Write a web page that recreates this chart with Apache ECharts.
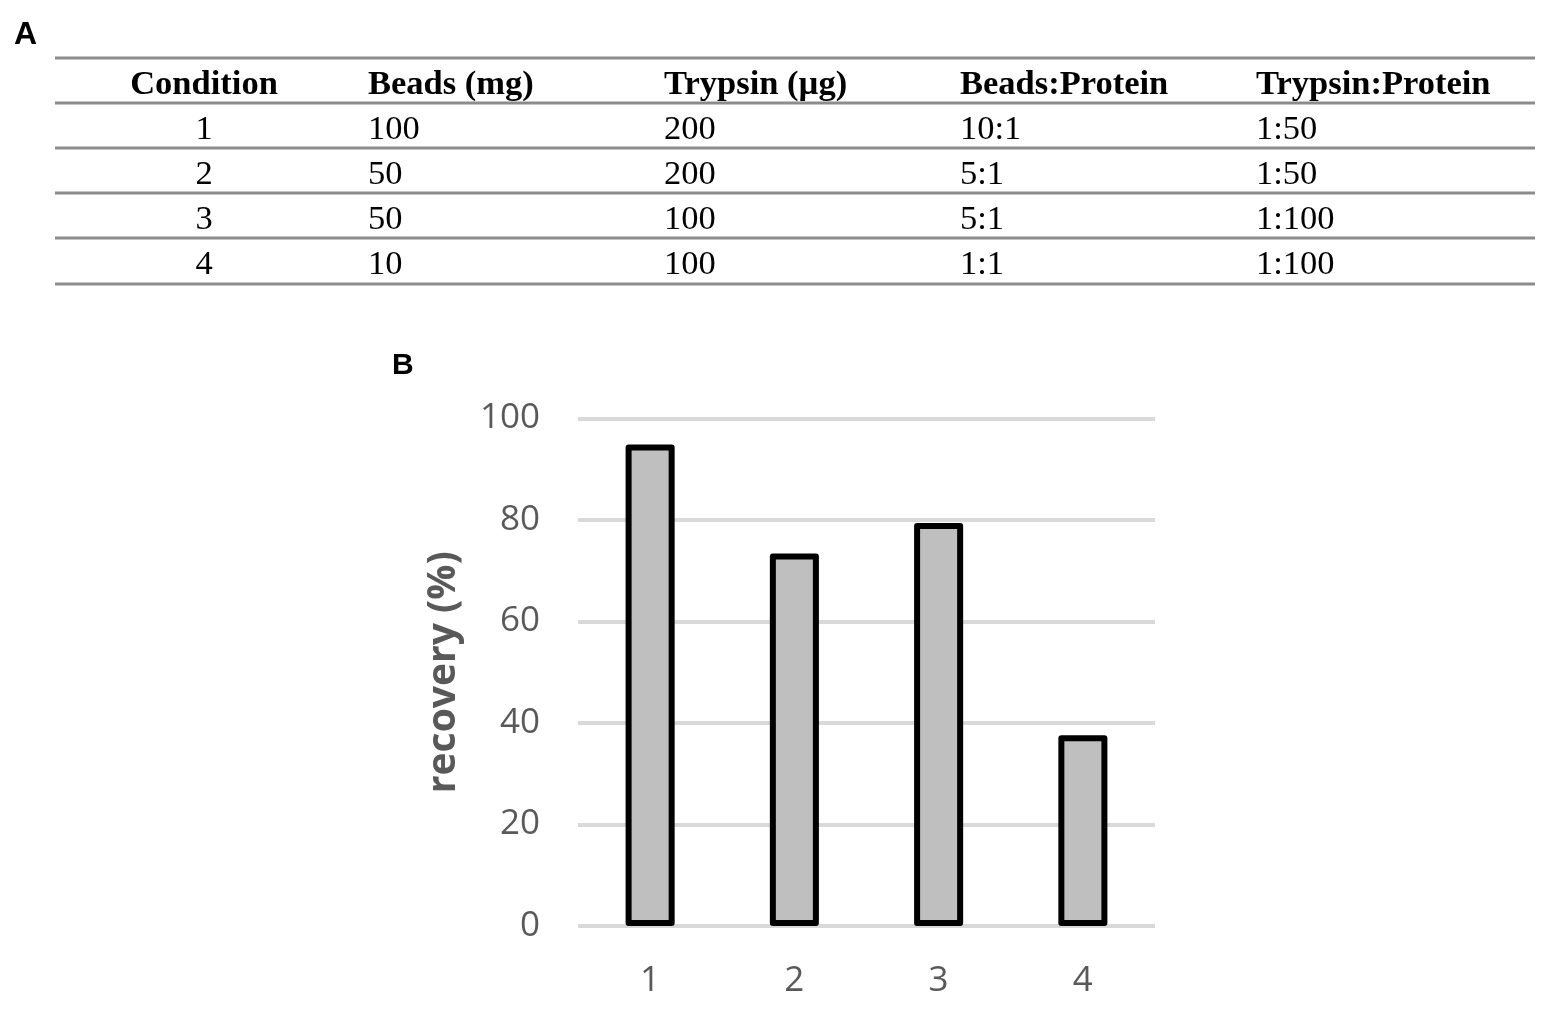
<!DOCTYPE html>
<html>
<head>
<meta charset="utf-8">
<script src="https://cdn.jsdelivr.net/npm/echarts@6/dist/echarts.min.js"></script>
<style>
  html, body { margin: 0; padding: 0; background: #fff; }
  #main { width: 1562px; height: 1029px; }
</style>
</head>
<body>
<div id="main"></div>
<script>
// table (panel A)
var tableHeader = ['Condition', 'Beads (mg)', 'Trypsin (\u00b5g)', 'Beads:Protein', 'Trypsin:Protein'];
var conditionCol = ['1', '2', '3', '4'];
var beadsCol = ['100', '50', '50', '10'];
var trypsinCol = ['200', '200', '100', '100'];
var beadsProteinCol = ['10:1', '5:1', '5:1', '1:1'];
var trypsinProteinCol = ['1:50', '1:50', '1:100', '1:100'];

// bar chart (panel B)
var conditions = ['1', '2', '3', '4'];
var recovery = [94.9, 73.4, 79.4, 37.6];

var myChart = echarts.init(document.getElementById('main'));

// table layout
var tblLeft = 55, tblRight = 1535;
var lineYs = [58, 103, 148, 193, 238, 284];
var colX = [204, 368, 664, 960, 1256];
var colAlign = ['center', 'left', 'left', 'left', 'left'];
var columns = [conditionCol, beadsCol, trypsinCol, beadsProteinCol, trypsinProteinCol];

var graphics = [];
lineYs.forEach(function (y) {
  graphics.push({
    type: 'line',
    shape: {x1: tblLeft, y1: y, x2: tblRight, y2: y},
    style: {stroke: '#8c8c8c', lineWidth: 3}
  });
});
tableHeader.forEach(function (h, i) {
  graphics.push({
    type: 'text',
    x: colX[i], y: (lineYs[0] + lineYs[1]) / 2 + 5,
    style: {
      text: h, fill: '#000', align: colAlign[i], verticalAlign: 'middle',
      font: 'bold 34.5px "Liberation Serif", "Times New Roman", serif'
    }
  });
});
columns.forEach(function (col, i) {
  col.forEach(function (v, r) {
    graphics.push({
      type: 'text',
      x: colX[i], y: (lineYs[r + 1] + lineYs[r + 2]) / 2 + 4,
      style: {
        text: v, fill: '#000', align: colAlign[i], verticalAlign: 'middle',
        font: '34.5px "Liberation Serif", "Times New Roman", serif'
      }
    });
  });
});
// panel letters
graphics.push({
  type: 'text', x: 14, y: 35,
  style: {text: 'A', fill: '#000', verticalAlign: 'middle', font: 'bold 32px "Liberation Sans", Arial, sans-serif'}
});
graphics.push({
  type: 'text', x: 392, y: 366,
  style: {text: 'B', fill: '#000', verticalAlign: 'middle', font: 'bold 30px "Liberation Sans", Arial, sans-serif'}
});

var option = {
  animation: false,
  grid: {left: 578, right: 407, top: 418.5, bottom: 103},
  xAxis: {
    type: 'category',
    data: conditions,
    axisLine: {show: false},
    axisTick: {show: false},
    axisLabel: {color: '#595959', fontSize: 35, fontFamily: 'Open Sans', margin: 38}
  },
  yAxis: {
    type: 'value',
    min: 0, max: 100, interval: 20,
    name: 'recovery (%)',
    nameLocation: 'middle',
    nameRotate: 90,
    nameGap: 115,
    nameTextStyle: {color: '#595959', fontSize: 39, fontWeight: 'bold', fontFamily: 'Open Sans'},
    axisLine: {show: false},
    axisTick: {show: false},
    axisLabel: {color: '#595959', fontSize: 35, fontFamily: 'Open Sans', margin: 38, padding: [5, 0, 0, 0]},
    splitLine: {lineStyle: {color: '#d9d9d9', width: 4}}
  },
  series: [{
    type: 'bar',
    data: recovery,
    barWidth: '34%',
    itemStyle: {color: '#bfbfbf', borderColor: '#000', borderWidth: 6, borderJoin: 'round'}
  }],
  graphic: graphics
};
myChart.setOption(option);
</script>
</body>
</html>
